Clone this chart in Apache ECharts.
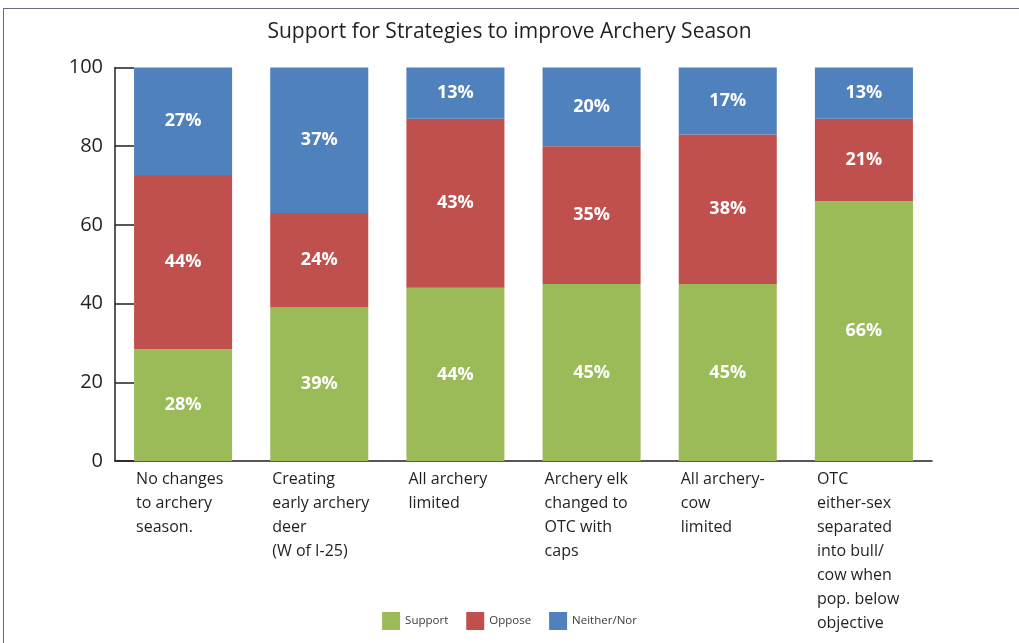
<!DOCTYPE html>
<html>
<head>
<meta charset="utf-8">
<script src="https://cdn.jsdelivr.net/npm/echarts@6/dist/echarts.min.js"></script>
<style>
  html, body { margin: 0; padding: 0; background: #fff; }
  #frame { position: absolute; left: 3px; top: 8px; width: 1030px; height: 660px; border-left: 1.5px solid #646b82; border-top: 1.5px solid #646b82; }
  #chart { position: absolute; left: 0; top: 0; width: 1019px; height: 643px; }
</style>
</head>
<body>
<div id="frame"></div>
<div id="chart"></div>
<script>
var categories = [
  "No changes\nto archery\nseason.",
  "Creating\nearly archery\ndeer\n(W of I-25)",
  "All archery\nlimited",
  "Archery elk\nchanged to\nOTC with\ncaps",
  "All archery-\ncow\nlimited",
  "OTC\neither-sex\nseparated\ninto bull/\ncow when\npop. below\nobjective"
];
var support = [28.4, 39, 44, 45, 45, 66];
var oppose = [44.3, 24, 43, 35, 38, 21];
var neither = [27.3, 37, 13, 20, 17, 13];
var yTicks = [0, 20, 40, 60, 80, 100];

(function () {
  "use strict";
  var ink = "#231f20";
  var chart = echarts.init(document.getElementById("chart"));
  var valueLabel = {
    show: true, position: "inside", color: "#fff", fontWeight: "bold",
    fontSize: 18, fontFamily: "Open Sans",
    formatter: function (p) { return Math.round(p.value) + "%"; }
  };
  function bar(name, data, color) {
    return { name: name, type: "bar", stack: "all", data: data, barWidth: "72%",
      itemStyle: { color: color }, label: valueLabel };
  }
  chart.setOption({
    animation: false,
    title: { text: "Support for Strategies to improve Archery Season", left: "center", top: 17,
      textStyle: { fontFamily: "Open Sans", fontWeight: "normal", fontSize: 21, color: ink } },
    legend: { bottom: 8, left: "center", icon: "rect", itemWidth: 18, itemHeight: 18, itemGap: 18,
      textStyle: { fontFamily: "Open Sans", fontSize: 11.5, color: "#3a3a3a" },
      data: ["Support", "Oppose", "Neither/Nor"] },
    grid: { left: 115, right: 87, top: 67.5, bottom: 182, containLabel: false },
    xAxis: { type: "category", data: categories,
      axisLine: { lineStyle: { color: ink, width: 1.5 } },
      axisTick: { inside: true, length: 12, lineStyle: { color: ink, width: 1.5 } },
      axisLabel: { interval: 0, margin: 6, align: "center",
        formatter: function (v) { return v.split("\n").map(function (s) { return "{a|" + s + "}"; }).join("\n"); },
        rich: { a: { width: 94, align: "left", fontFamily: "Open Sans", fontSize: 16, lineHeight: 24, color: ink } } } },
    yAxis: { type: "value", min: yTicks[0], max: yTicks[yTicks.length - 1], interval: 20,
      axisLine: { show: true, lineStyle: { color: ink, width: 1.5 } },
      axisTick: { show: true, inside: true, length: 19, lineStyle: { color: ink, width: 1.5 } },
      splitLine: { show: false },
      axisLabel: { margin: 12, fontFamily: "Open Sans", fontSize: 20, color: ink } },
    series: [
      bar("Support", support, "#9bbb59"),
      bar("Oppose", oppose, "#c0504d"),
      bar("Neither/Nor", neither, "#4f81bd")
    ]
  });
})();
</script>
</body>
</html>
